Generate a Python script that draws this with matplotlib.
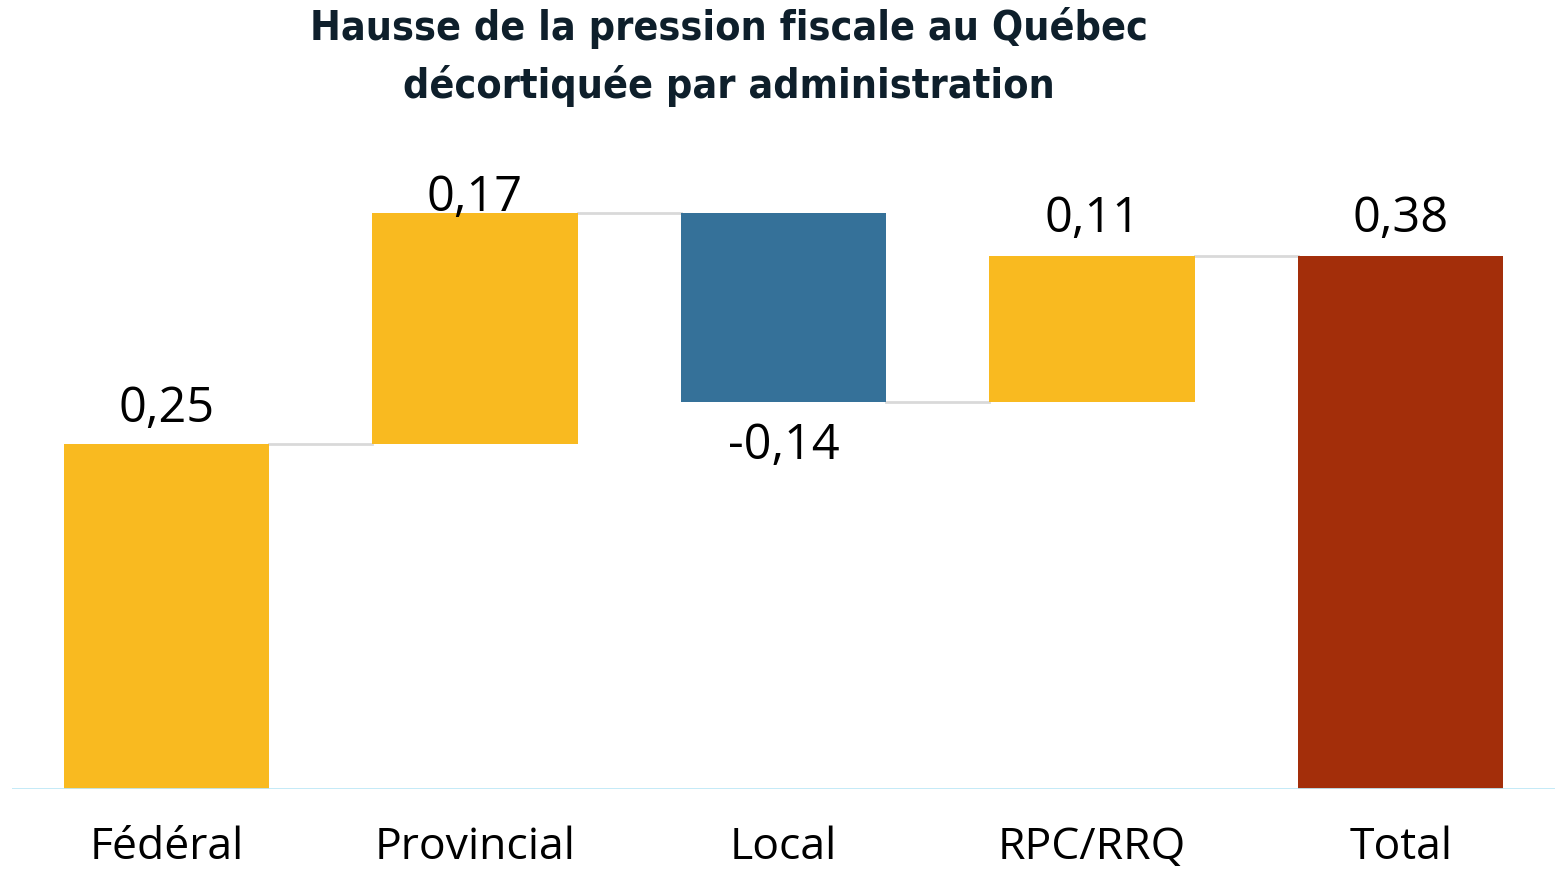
import matplotlib
matplotlib.use("Agg")
import matplotlib.pyplot as plt
import numpy as np

# Waterfall data
categories = ["Fédéral", "Provincial", "Local", "RPC/RRQ", "Total"]
deltas = [0.246, 0.165, -0.135, 0.104]
value_labels = ["0,25", "0,17", "-0,14", "0,11", "0,38"]

title = "Hausse de la pression fiscale au Québec\ndécortiquée par administration"

YELLOW = "#F9BA20"
BLUE = "#357199"
RED = "#A32E0A"

fig = plt.figure(figsize=(15.62, 8.72), dpi=100)
ax = fig.add_axes([12 / 1562, 83 / 872, 1543 / 1562, 700 / 872])

x = np.arange(len(categories))
width = 0.665
cum = np.concatenate([[0], np.cumsum(deltas)])
total = cum[-1]

bottoms = []
heights = []
colors = []
for i, d in enumerate(deltas):
    bottoms.append(min(cum[i], cum[i + 1]))
    heights.append(abs(d))
    colors.append(YELLOW if d >= 0 else BLUE)
bottoms.append(0)
heights.append(total)
colors.append(RED)

ax.bar(x, heights, width, bottom=bottoms, color=colors, zorder=2)

# connectors between bars
for i, lvl in enumerate(cum[1:]):
    ax.plot([x[i] + width / 2, x[i + 1] - width / 2], [lvl, lvl],
            color="#d9d9d9", lw=2, zorder=1)

# value labels
signs = [1 if d >= 0 else -1 for d in deltas] + [1]
offsets = [10, -10, -20, 12, 12]
for i, lab in enumerate(value_labels):
    if signs[i] > 0:
        y = max(cum[i], cum[i + 1]) if i < len(deltas) else total
        va = "bottom"
    else:
        y = min(cum[i], cum[i + 1])
        va = "top"
    ax.annotate(lab, (x[i], y), xytext=(0, offsets[i]), textcoords="offset pixels",
                ha="center", va=va, fontsize=35, family="Open Sans",
                annotation_clip=False)

ax.axhline(0, color="#bfe8f7", lw=2, zorder=3)
ax.set_xlim(-0.5, len(categories) - 0.5)
ax.set_ylim(0, 0.38 * 700 / 533)
ax.set_xticks(x)
ax.set_xticklabels(categories, fontsize=32, family="Open Sans")
ax.tick_params(axis="x", length=0, pad=26)
ax.set_yticks([])
for s in ax.spines.values():
    s.set_visible(False)

fig.text(729 / 1562, 1 - 57 / 872, title, ha="center", va="center",
         fontsize=29.5, fontweight="bold", fontstretch="condensed",
         color="#0e1f2b", linespacing=1.5,
         family=["Liberation Sans Narrow", "DejaVu Sans"])

fig.savefig("out.png", dpi=100)
